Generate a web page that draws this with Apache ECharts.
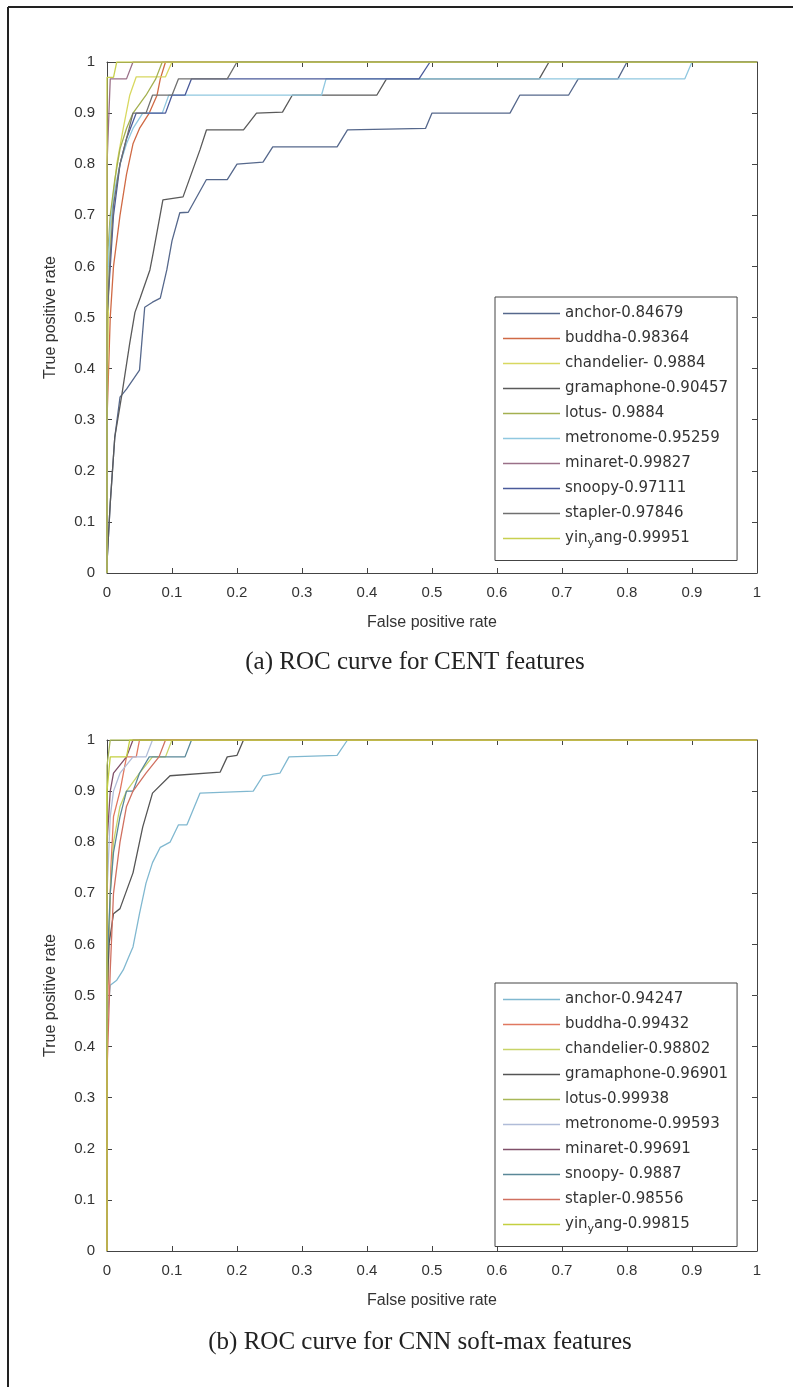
<!DOCTYPE html>
<html>
<head>
<meta charset="utf-8">
<script src="https://cdn.jsdelivr.net/npm/echarts@6/dist/echarts.min.js"></script>
<style>
  html, body { margin: 0; padding: 0; background: #fff; }
  #chart { width: 793px; height: 1387px; }
</style>
</head>
<body>
<div id="chart"></div>
<script>
// ROC curves, points are [false positive rate, true positive rate]

// (a) CENT features
const namesA = ['anchor-0.84679', 'buddha-0.98364', 'chandelier- 0.9884', 'gramaphone-0.90457', 'lotus- 0.9884',
  'metronome-0.95259', 'minaret-0.99827', 'snoopy-0.97111', 'stapler-0.97846', 'yin_yang-0.99951']
const anchorA = [[0,0],[0,0.02],[0.005,0.137],[0.012,0.266],[0.02,0.344],[0.03,0.36],[0.05,0.397],[0.058,0.52],[0.07,0.53],
  [0.082,0.538],[0.092,0.593],[0.1,0.65],[0.112,0.705],[0.125,0.706],[0.153,0.77],[0.185,0.77],[0.2,0.8],[0.24,0.804],
  [0.255,0.834],[0.354,0.834],[0.37,0.867],[0.49,0.87],[0.5,0.9],[0.62,0.9],[0.635,0.935],[0.71,0.935],[0.725,0.967],
  [0.786,0.967],[0.8,1],[1,1]]
const buddhaA = [[0,0],[0,0.3],[0.005,0.5],[0.01,0.6],[0.02,0.7],[0.03,0.78],[0.04,0.84],[0.05,0.87],[0.065,0.9],
  [0.077,0.935],[0.082,0.967],[0.09,1],[1,1]]
const chandelierA = [[0,0],[0,0.3],[0.003,0.6],[0.008,0.72],[0.015,0.8],[0.025,0.87],[0.035,0.935],[0.045,0.971],
  [0.09,0.971],[0.1,1],[1,1]]
const gramaphoneA = [[0,0],[0,0.02],[0.005,0.137],[0.012,0.266],[0.023,0.35],[0.035,0.45],[0.043,0.51],[0.051,0.538],
  [0.066,0.593],[0.071,0.626],[0.086,0.73],[0.117,0.736],[0.143,0.828],[0.153,0.867],[0.21,0.867],[0.23,0.9],[0.27,0.902],
  [0.285,0.935],[0.415,0.935],[0.43,0.967],[0.665,0.967],[0.68,1],[1,1]]
const lotusA = [[0,0],[0,0.6],[0.005,0.7],[0.012,0.77],[0.02,0.83],[0.03,0.87],[0.04,0.9],[0.06,0.935],[0.075,0.967],
  [0.085,1],[1,1]]
const metronomeA = [[0,0],[0,0.55],[0.005,0.68],[0.012,0.75],[0.02,0.8],[0.03,0.84],[0.04,0.87],[0.055,0.9],[0.085,0.9],
  [0.095,0.935],[0.33,0.935],[0.337,0.967],[0.889,0.967],[0.9,1],[1,1]]
const minaretA = [[0,0],[0,0.8],[0.003,0.9],[0.005,0.967],[0.03,0.967],[0.04,1],[1,1]]
const snoopyA = [[0,0],[0,0.5],[0.005,0.6],[0.01,0.7],[0.02,0.8],[0.03,0.85],[0.045,0.9],[0.09,0.9],[0.1,0.935],
  [0.12,0.935],[0.13,0.967],[0.48,0.967],[0.497,1],[1,1]]
const staplerA = [[0,0],[0,0.5],[0.005,0.62],[0.01,0.72],[0.02,0.8],[0.03,0.85],[0.04,0.9],[0.06,0.9],[0.07,0.935],
  [0.1,0.935],[0.11,0.967],[0.185,0.967],[0.2,1],[1,1]]
const yinyangA = [[0,0],[0,0.97],[0.01,0.97],[0.015,1],[1,1]]
const curvesA = [anchorA, buddhaA, chandelierA, gramaphoneA, lotusA, metronomeA, minaretA, snoopyA, staplerA, yinyangA]

// (b) CNN soft-max features
const namesB = ['anchor-0.94247', 'buddha-0.99432', 'chandelier-0.98802', 'gramaphone-0.96901', 'lotus-0.99938',
  'metronome-0.99593', 'minaret-0.99691', 'snoopy- 0.9887', 'stapler-0.98556', 'yin_yang-0.99815']
const anchorB = [[0,0],[0,0.45],[0.005,0.52],[0.015,0.53],[0.025,0.55],[0.035,0.58],[0.04,0.595],[0.05,0.66],[0.06,0.72],
  [0.07,0.76],[0.082,0.79],[0.097,0.8],[0.11,0.834],[0.123,0.834],[0.143,0.896],[0.225,0.9],[0.24,0.93],[0.266,0.935],
  [0.28,0.967],[0.354,0.97],[0.37,1],[1,1]]
const buddhaB = [[0,0],[0,0.4],[0.003,0.6],[0.006,0.75],[0.01,0.85],[0.02,0.9],[0.03,0.967],[0.045,0.967],[0.05,1],[1,1]]
const chandelierB = [[0,0],[0,0.5],[0.005,0.7],[0.01,0.8],[0.02,0.87],[0.03,0.9],[0.05,0.935],[0.07,0.967],[0.09,0.967],
  [0.1,1],[1,1]]
const gramaphoneB = [[0,0],[0,0.5],[0.003,0.6],[0.01,0.66],[0.02,0.67],[0.04,0.74],[0.055,0.83],[0.07,0.896],[0.097,0.93],
  [0.174,0.937],[0.185,0.967],[0.2,0.97],[0.21,1],[1,1]]
const lotusB = [[0,0],[0,0.95],[0.005,1],[1,1]]
const metronomeB = [[0,0],[0,0.7],[0.005,0.85],[0.01,0.9],[0.02,0.935],[0.04,0.967],[0.06,0.967],[0.07,1],[1,1]]
const minaretB = [[0,0],[0,0.8],[0.005,0.9],[0.01,0.935],[0.03,0.967],[0.04,1],[1,1]]
const snoopyB = [[0,0],[0,0.55],[0.005,0.7],[0.01,0.78],[0.02,0.85],[0.03,0.9],[0.04,0.9],[0.05,0.935],[0.065,0.967],
  [0.12,0.967],[0.13,1],[1,1]]
const staplerB = [[0,0],[0,0.35],[0.005,0.55],[0.01,0.7],[0.02,0.8],[0.03,0.87],[0.04,0.9],[0.06,0.935],[0.08,0.967],
  [0.09,1],[1,1]]
const yinyangB = [[0,0],[0,0.9],[0.005,0.967],[0.03,0.967],[0.035,1],[1,1]]
const curvesB = [anchorB, buddhaB, chandelierB, gramaphoneB, lotusB, metronomeB, minaretB, snoopyB, staplerB, yinyangB]

const colorsA = ['#56688c', '#d06a45', '#d8d860', '#5a5a5a', '#a4b050', '#90c8e0', '#9a7088', '#4a5a9a', '#707070', '#c8d050']
const colorsB = ['#80b8d0', '#e07860', '#c8d468', '#555555', '#a8b858', '#b0bcd8', '#80506a', '#5a8898', '#d07060', '#c4d040']

const sans = 'Liberation Sans'
const axisColor = '#444'
const textColor = '#333'

const myChart = echarts.init(document.getElementById('chart'), null, { renderer: 'canvas' })

// two grids, same size, stacked
const grids = [
  { left: 107, top: 62, width: 650, height: 511 },
  { left: 107, top: 740, width: 650, height: 511 }
]

function xAxisFor(gi, pos) {
  const main = pos === 'bottom'
  return {
    type: 'value', gridIndex: gi, position: pos, min: 0, max: 1, interval: 0.1,
    name: main ? 'False positive rate' : '', nameLocation: 'middle', nameGap: 42,
    nameTextStyle: { fontFamily: sans, fontSize: 16, color: textColor },
    axisLine: { show: true, onZero: false, lineStyle: { color: axisColor, width: 1 } },
    axisTick: { show: true, inside: true, length: 5, lineStyle: { color: axisColor } },
    axisLabel: { show: main, fontFamily: sans, fontSize: 15, color: textColor, margin: 12 },
    splitLine: { show: false }
  }
}

function yAxisFor(gi, pos) {
  const main = pos === 'left'
  return {
    type: 'value', gridIndex: gi, position: pos, min: 0, max: 1, interval: 0.1,
    name: main ? 'True positive rate' : '', nameLocation: 'middle', nameGap: 48, nameRotate: 90,
    nameTextStyle: { fontFamily: sans, fontSize: 16, color: textColor },
    axisLine: { show: true, onZero: false, lineStyle: { color: axisColor, width: 1 } },
    axisTick: { show: true, inside: true, length: 5, lineStyle: { color: axisColor } },
    axisLabel: { show: main, fontFamily: sans, fontSize: 15, color: textColor, margin: 12 },
    splitLine: { show: false }
  }
}

// MATLAB writes yin_yang with a subscript y
function legendLabel(name) {
  const i = name.indexOf('_')
  if (i < 0) return name
  return name.slice(0, i) + '{sub|' + name[i + 1] + '}' + name.slice(i + 2)
}

function legendFor(names, top) {
  return {
    data: names, orient: 'vertical', left: 495, top: top,
    icon: 'rect', itemWidth: 57, itemHeight: 1.5, itemGap: 10,
    padding: [9, 9, 12, 8],
    borderColor: '#444', borderWidth: 1, backgroundColor: '#fff',
    formatter: legendLabel,
    textStyle: {
      fontFamily: 'DejaVu Sans', fontSize: 15, color: textColor, lineHeight: 15,
      rich: { sub: { fontFamily: 'DejaVu Sans', fontSize: 11, color: textColor, padding: [9, 0, 0, 0] } }
    }
  }
}

function makeSeries(names, curves, colors, axisIdx) {
  return names.map((n, i) => ({
    name: n, type: 'line', data: curves[i], symbol: 'none',
    xAxisIndex: axisIdx, yAxisIndex: axisIdx,
    lineStyle: { color: colors[i], width: 1.3 },
    itemStyle: { color: colors[i] }
  }))
}

const options = {
  animation: false,
  backgroundColor: '#fff',
  grid: grids.map(g => Object.assign({ containLabel: false }, g)),
  xAxis: [xAxisFor(0, 'bottom'), xAxisFor(0, 'top'), xAxisFor(1, 'bottom'), xAxisFor(1, 'top')],
  yAxis: [yAxisFor(0, 'left'), yAxisFor(0, 'right'), yAxisFor(1, 'left'), yAxisFor(1, 'right')],
  legend: [legendFor(namesA, 297), legendFor(namesB, 983)],
  series: makeSeries(namesA, curvesA, colorsA, 0).concat(makeSeries(namesB, curvesB, colorsB, 2)),
  graphic: [
    { type: 'line', shape: { x1: 8, y1: 7, x2: 793, y2: 7 }, style: { stroke: '#222', lineWidth: 2 } },
    { type: 'line', shape: { x1: 8, y1: 7, x2: 8, y2: 1387 }, style: { stroke: '#222', lineWidth: 2 } },
    { type: 'text', x: 415, y: 662, style: { text: '(a) ROC curve for CENT features', fill: '#222',
      font: '25px "Liberation Serif"', align: 'center', verticalAlign: 'middle' } },
    { type: 'text', x: 420, y: 1342, style: { text: '(b) ROC curve for CNN soft-max features', fill: '#222',
      font: '25px "Liberation Serif"', align: 'center', verticalAlign: 'middle' } }
  ]
}

myChart.setOption(options)
</script>
</body>
</html>
